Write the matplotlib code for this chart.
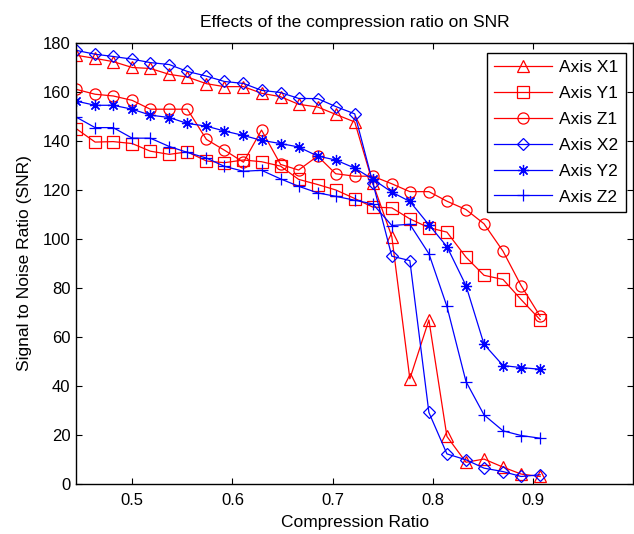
import matplotlib
matplotlib.use("Agg")
import matplotlib.pyplot as plt

plt.rcParams['font.family'] = ['Liberation Sans', 'DejaVu Sans']

# compression ratio samples (x)
ratio = [0.444, 0.463, 0.481, 0.500, 0.518, 0.537, 0.555, 0.574, 0.592, 0.611,
         0.629, 0.648, 0.666, 0.685, 0.703, 0.722, 0.740, 0.759, 0.777, 0.796,
         0.814, 0.833, 0.851, 0.870, 0.888, 0.907]

# SNR per axis
axis_x1 = [174.9, 173.6, 172.3, 169.9, 169.5, 167.1, 166.0, 163.3, 162.1, 162.1,
           159.4, 158.0, 154.9, 153.8, 150.8, 147.7, 122.8, 101.0, 43.0, 67.0,
           19.5, 9.0, 10.3, 7.0, 4.2, 3.2]
axis_y1 = [145.0, 139.5, 139.7, 138.9, 135.8, 134.5, 135.5, 131.8, 131.1, 132.2,
           131.5, 129.7, 124.3, 122.2, 120.0, 116.5, 113.0, 112.7, 108.2, 104.6,
           102.8, 92.6, 85.2, 83.5, 75.3, 67.1]
axis_z1 = [161.0, 159.0, 158.3, 156.5, 152.9, 152.9, 152.9, 140.6, 136.2, 131.3,
           144.4, 130.4, 128.1, 133.8, 126.6, 125.6, 125.6, 122.5, 119.3, 119.3,
           115.4, 112.0, 106.2, 95.0, 81.0, 68.5]
axis_x2 = [176.9, 175.3, 174.4, 173.3, 171.9, 171.1, 168.3, 166.4, 164.2, 163.4,
           160.6, 159.7, 157.3, 157.2, 154.0, 151.0, 123.0, 93.0, 91.2, 29.3,
           12.4, 10.0, 6.6, 5.2, 3.2, 3.9]
axis_y2 = [156.2, 154.5, 154.5, 152.9, 150.5, 149.5, 147.1, 146.0, 144.0, 142.2,
           140.2, 138.9, 137.5, 133.8, 132.2, 128.9, 124.4, 119.1, 115.3, 105.8,
           96.9, 81.0, 57.1, 48.4, 47.6, 46.9]
axis_z2 = [149.7, 145.4, 145.4, 141.1, 141.1, 137.7, 135.3, 133.0, 129.6, 127.6,
           128.0, 124.5, 121.5, 118.8, 117.4, 115.8, 114.3, 105.5, 106.0, 94.0,
           72.5, 41.9, 28.3, 21.8, 19.9, 18.8]

labels = ['Axis X1', 'Axis Y1', 'Axis Z1', 'Axis X2', 'Axis Y2', 'Axis Z2']
series = [axis_x1, axis_y1, axis_z1, axis_x2, axis_y2, axis_z2]
colors = ['#ff0000'] * 3 + ['#0000ff'] * 3
# matlab style markers, (8, 2, 0) is the + and x asterisk
markers = ['^', 's', 'o', 'D', (8, 2, 0), '+']
msizes = [9, 8, 8, 6.5, 8, 8.5]

fig = plt.figure(figsize=(6.34, 5.34), dpi=100)
ax = fig.add_axes([0.12, 0.093, 0.879, 0.827])

for vals, lab, c, m, ms in zip(series, labels, colors, markers, msizes):
    ax.plot(ratio, vals, color=c, marker=m, markersize=ms, markerfacecolor='none',
            markeredgecolor=c, markeredgewidth=0.9, linewidth=0.9, label=lab)

ax.set_xlim(0.444, 1.0)
ax.set_ylim(0, 180)
ax.set_xticks([0.5, 0.6, 0.7, 0.8, 0.9])
ax.set_yticks(range(0, 181, 20))
ax.tick_params(direction='in', top=True, right=True, labelsize=12, length=4, pad=4)
ax.tick_params(axis='x', pad=6)
for s in ax.spines.values():
    s.set_linewidth(1.0)

ax.set_title('Effects of the compression ratio on SNR', fontsize=12.5, pad=11)
ax.set_xlabel('Compression Ratio', fontsize=12.5, labelpad=5)
ax.set_ylabel('Signal to Noise Ratio (SNR)', fontsize=12.5, labelpad=8)

leg = ax.legend(loc='upper right', bbox_to_anchor=(0.986, 0.977), fontsize=12.5,
                handlelength=3.3, fancybox=False, framealpha=1,
                edgecolor='black', borderpad=0.4, labelspacing=0.62,
                handletextpad=0.45, borderaxespad=0)
leg.get_frame().set_linewidth(1.0)

fig.savefig('out.png', dpi=100)
